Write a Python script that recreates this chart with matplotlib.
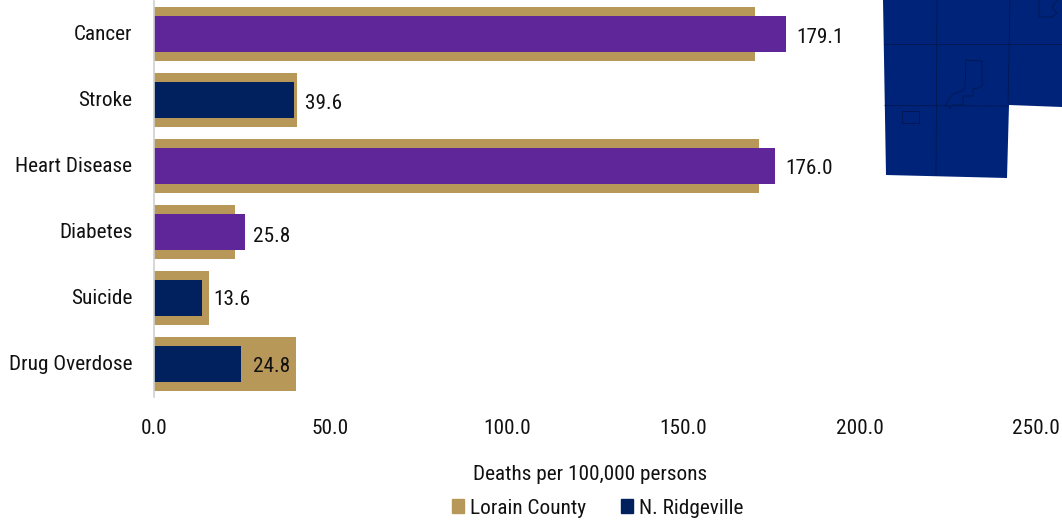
#!/usr/bin/env python3
import matplotlib
matplotlib.use('Agg')
import matplotlib.pyplot as plt
from matplotlib.patches import Patch
from matplotlib.transforms import ScaledTranslation

plt.rcParams['font.family'] = ['Roboto Condensed', 'Roboto', 'DejaVu Sans']

causes = ["Cancer", "Stroke", "Heart Disease", "Diabetes", "Suicide", "Drug Overdose"]
lorain = [170.3, 40.5, 171.5, 23.0, 15.6, 40.3]
ridgeville = [179.1, 39.6, 176.0, 25.8, 13.6, 24.8]
xticks = [0, 50, 100, 150, 200, 250]

GOLD = '#B89859'
PURPLE = '#5F2699'
NAVY = '#00205E'
MAP_BLUE = '#00237A'
MAP_LINE = '#00174F'
FS = 15.3

# the value labels are not quite regular in the original (px)
nudge_x = [0, 0, 0, -3, 0.5, 1]
nudge_y = [2, 2, 1, 3, 0, 1]

# county map in the corner, in image pixels
map_x = [883, 886, 1007, 1009, 1062, 1062]
map_y = [0, 175, 178, 105, 107, 0]
map_lines = [
    ([937, 936], [0, 175]),
    ([1010, 1008], [0, 105]),
    ([884, 1062], [44, 44]),
    ([885, 1008], [105.5, 106]),
    ([902, 902, 919, 919, 902], [111, 123, 123, 111, 111]),
    ([966, 965, 962, 953, 949, 945, 949, 950, 953, 963, 963, 973, 973, 978, 982, 982, 966],
     [60, 88, 91, 94, 99, 106, 106, 109, 105, 105, 96, 96, 89, 88, 86, 61, 60]),
    ([1039, 1039, 1052, 1057, 1052, 1057], [0, 17, 17, 13, 7, 0]),
]

W, H = 1062, 523
fig = plt.figure(figsize=(W / 100, H / 100), dpi=100)

ax = fig.add_axes([154 / W, 1 - 397 / H, (W - 154) / W, 396 / H])
ypos = list(range(len(causes)))
ax.barh(ypos, lorain, height=0.815, color=GOLD, zorder=2)
colors = [PURPLE if r > l else NAVY for r, l in zip(ridgeville, lorain)]
ax.barh(ypos, ridgeville, height=0.55, color=colors, zorder=3)

for y, v, nx, ny in zip(ypos, ridgeville, nudge_x, nudge_y):
    ax.annotate(f"{v:.1f}", (v, y), xytext=(7.8 + nx * 0.72, -1.4 - ny * 0.72),
                textcoords='offset points', ha='left', va='center',
                fontsize=FS, color='#111111', zorder=4)

ax.set_xlim(0, (W - 154) / 3.528)
ax.set_ylim(len(causes) - 0.5, -0.5)
ax.set_yticks(ypos, causes)
ax.set_xticks(xticks, [f"{t:.1f}" for t in xticks])
ax.tick_params(axis='y', length=0, pad=15.5, labelsize=FS, labelcolor='#111111')
ax.tick_params(axis='x', length=0, pad=16, labelsize=FS, labelcolor='#111111')
up = ScaledTranslation(0, 1.0 / 100, fig.dpi_scale_trans)
for lab in ax.get_yticklabels():
    lab.set_transform(lab.get_transform() + up)
for s in ['top', 'right', 'bottom']:
    ax.spines[s].set_visible(False)
ax.spines['left'].set_color('#D0D0D0')
ax.spines['left'].set_linewidth(1.2)
ax.spines['left'].set_zorder(5)

fig.text(590 / W, 1 - 475 / H, "Deaths per 100,000 persons", ha='center', va='center',
         fontsize=FS, color='#111111')

handles = [Patch(color=GOLD, label="Lorain County"), Patch(color=NAVY, label="N. Ridgeville")]
fig.legend(handles=handles, loc='center', bbox_to_anchor=(597.5 / W, 1 - 508 / H), ncol=2,
           frameon=False, fontsize=FS, labelcolor='#111111', handlelength=0.57, handleheight=0.57,
           handletextpad=0.28, columnspacing=1.65, borderpad=0, borderaxespad=0)

# overlay in pixel coordinates for the map
mp = fig.add_axes([0, 0, 1, 1], zorder=10)
mp.set_xlim(0, W)
mp.set_ylim(H, 0)
mp.axis('off')
mp.patch.set_alpha(0)
mp.fill(map_x, map_y, color=MAP_BLUE, lw=0)
for lx, ly in map_lines:
    mp.plot(lx, ly, color=MAP_LINE, lw=0.6)

fig.savefig('out.png', dpi=100)
